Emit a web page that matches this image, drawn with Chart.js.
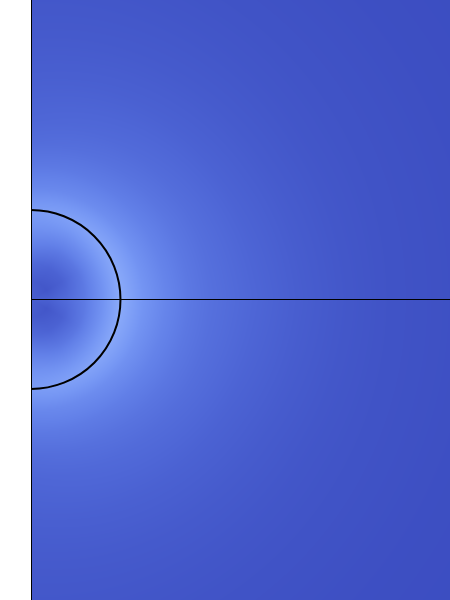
<!DOCTYPE html>
<html>
<head>
<meta charset="utf-8">
<script src="https://cdn.jsdelivr.net/npm/chart.js@4"></script>
<style>
  html, body { margin: 0; padding: 0; background: #ffffff; }
  #c { display: block; }
</style>
</head>
<body>
<canvas id="c" width="450" height="600"></canvas>
<script>
// Axis limits (data units, sphere radius = 1)
const xLimits = [0, 4.682];
const yLimits = [-3.358, 3.346];

// Polar sampling grid: angle from +x axis (deg) and radius
const angleDeg = [-90, -60, -30, 0, 30, 60, 90];
const radius = [0, 0.2, 0.4, 0.6, 0.8, 0.9, 1.0, 1.1, 1.25, 1.5, 1.75, 2.0, 2.5, 3.0, 3.5, 4.0, 5.0, 6.0];

// Normalised field level (0 = darkest blue, 1 = lightest) along each angle
const fieldM90 = [0.18, 0.15, 0.28, 0.50, 0.70, 0.76, 0.80, 0.72, 0.57, 0.42, 0.31, 0.25, 0.18, 0.13, 0.10, 0.07, 0.03, 0.01];
const fieldM60 = [0.18, 0.12, 0.22, 0.42, 0.66, 0.78, 0.88, 0.78, 0.62, 0.46, 0.36, 0.29, 0.20, 0.14, 0.10, 0.07, 0.03, 0.01];
const fieldM30 = [0.18, 0.10, 0.20, 0.40, 0.68, 0.82, 0.95, 0.85, 0.69, 0.52, 0.41, 0.33, 0.22, 0.15, 0.10, 0.07, 0.03, 0.01];
const field0   = [0.18, 0.20, 0.30, 0.45, 0.70, 0.85, 1.00, 0.89, 0.73, 0.56, 0.43, 0.35, 0.25, 0.17, 0.11, 0.07, 0.03, 0.01];
const fieldP30 = [0.18, 0.10, 0.20, 0.40, 0.68, 0.82, 0.95, 0.85, 0.69, 0.52, 0.41, 0.33, 0.22, 0.15, 0.10, 0.07, 0.03, 0.01];
const fieldP60 = [0.18, 0.12, 0.22, 0.42, 0.66, 0.78, 0.88, 0.78, 0.62, 0.46, 0.36, 0.29, 0.20, 0.14, 0.10, 0.07, 0.03, 0.01];
const fieldP90 = [0.18, 0.15, 0.28, 0.50, 0.70, 0.76, 0.80, 0.72, 0.57, 0.42, 0.31, 0.25, 0.18, 0.13, 0.10, 0.07, 0.03, 0.01];

// Sphere outline radius and colour stops
const sphereRadius = [1];
const colorStops = [0, 0.25, 0.5, 0.75, 1];
const colorRGB = [[59, 76, 192], [78, 102, 214], [98, 128, 232], [118, 151, 244], [139, 171, 250]];

const fieldTable = [fieldM90, fieldM60, fieldM30, field0, fieldP30, fieldP60, fieldP90];

function bracket(arr, v) {
  if (v <= arr[0]) return [0, 0, 0];
  const n = arr.length - 1;
  if (v >= arr[n]) return [n, n, 0];
  let i = 0;
  while (i < n - 1 && arr[i + 1] < v) i++;
  return [i, i + 1, (v - arr[i]) / (arr[i + 1] - arr[i])];
}

function sampleField(r, a) {
  const [a0, a1, ta] = bracket(angleDeg, a);
  const [r0, r1, tr] = bracket(radius, r);
  const v00 = fieldTable[a0][r0], v01 = fieldTable[a0][r1];
  const v10 = fieldTable[a1][r0], v11 = fieldTable[a1][r1];
  const va = v00 + (v01 - v00) * tr;
  const vb = v10 + (v11 - v10) * tr;
  return va + (vb - va) * ta;
}

function colorFor(v) {
  const [i0, i1, t] = bracket(colorStops, v);
  const c0 = colorRGB[i0], c1 = colorRGB[i1];
  return [c0[0] + (c1[0] - c0[0]) * t, c0[1] + (c1[1] - c0[1]) * t, c0[2] + (c1[2] - c0[2]) * t];
}

const fieldPlugin = {
  id: 'fieldPlugin',
  beforeDraw(chart) {
    const { ctx, chartArea: ca, scales } = chart;
    const xs = scales.x, ys = scales.y;
    const left = Math.round(ca.left), top = Math.round(ca.top);
    const w = Math.round(ca.right) - left, h = Math.round(ca.bottom) - top;
    const img = ctx.createImageData(w, h);
    const xv = new Float64Array(w), yv = new Float64Array(h);
    for (let i = 0; i < w; i++) xv[i] = xs.getValueForPixel(left + i + 0.5);
    for (let j = 0; j < h; j++) yv[j] = ys.getValueForPixel(top + j + 0.5);
    let k = 0;
    for (let j = 0; j < h; j++) {
      for (let i = 0; i < w; i++) {
        const x = xv[i], y = yv[j];
        const r = Math.sqrt(x * x + y * y);
        const a = Math.atan2(y, x) * 180 / Math.PI;
        const c = colorFor(sampleField(r, a));
        img.data[k++] = c[0];
        img.data[k++] = c[1];
        img.data[k++] = c[2];
        img.data[k++] = 255;
      }
    }
    ctx.putImageData(img, left, top);
  },
  afterDraw(chart) {
    const { ctx, scales } = chart;
    const xs = scales.x, ys = scales.y;
    const cx = xs.getPixelForValue(0), cy = ys.getPixelForValue(0);
    const rp = xs.getPixelForValue(sphereRadius[0]) - cx;
    ctx.save();
    ctx.beginPath();
    ctx.arc(cx, cy, rp, -Math.PI / 2, Math.PI / 2);
    ctx.strokeStyle = '#000000';
    ctx.lineWidth = 2;
    ctx.stroke();
    ctx.restore();
  }
};

const zeroTickOnly = (scale) => { scale.ticks = [{ value: 0 }]; };

new Chart(document.getElementById('c'), {
  type: 'scatter',
  data: { datasets: [] },
  options: {
    responsive: false,
    animation: false,
    events: [],
    layout: { padding: { left: 31, right: 0, top: 0, bottom: 0 } },
    plugins: { legend: { display: false }, tooltip: { enabled: false }, title: { display: false } },
    scales: {
      x: {
        type: 'linear', min: xLimits[0], max: xLimits[1],
        afterBuildTicks: zeroTickOnly,
        ticks: { display: false },
        grid: { color: '#000000', lineWidth: 1, drawTicks: false, tickLength: 0 },
        border: { display: false }
      },
      y: {
        type: 'linear', min: yLimits[0], max: yLimits[1],
        afterBuildTicks: zeroTickOnly,
        ticks: { display: false },
        grid: { color: '#000000', lineWidth: 1, drawTicks: false, tickLength: 0 },
        border: { display: false }
      }
    }
  },
  plugins: [fieldPlugin]
});
</script>
</body>
</html>
